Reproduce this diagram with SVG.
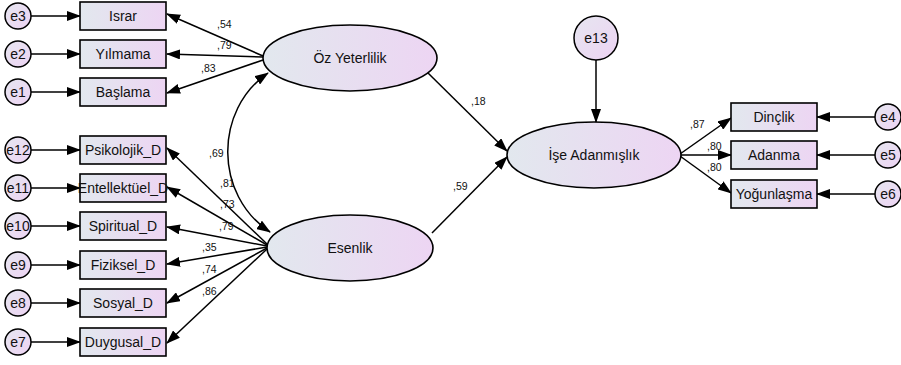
<svg xmlns="http://www.w3.org/2000/svg" width="901" height="365" viewBox="0 0 901 365">
<defs>
<linearGradient id="g" x1="0" y1="0" x2="1" y2="0">
<stop offset="0" stop-color="#e2e8ee"/>
<stop offset="1" stop-color="#edd5f3"/>
</linearGradient>
<linearGradient id="gc" x1="0" y1="0" x2="1" y2="1">
<stop offset="0" stop-color="#e6e6f0"/>
<stop offset="1" stop-color="#edd3f3"/>
</linearGradient>
<marker id="ah" markerUnits="userSpaceOnUse" markerWidth="14" markerHeight="10" viewBox="0 0 14 10" refX="13" refY="5" orient="auto-start-reverse">
<path d="M0,0 L14,5 L0,10 z" fill="#000"/>
</marker>
</defs>
<style>
.box{fill:url(#g);stroke:#000;stroke-width:1.6}
.lat{fill:url(#g);stroke:#000;stroke-width:1.6}
.err{fill:url(#gc);stroke:#000;stroke-width:1.5}
.t{font-family:"Liberation Sans",Arial,sans-serif;font-size:14px;fill:#111;text-anchor:middle;dominant-baseline:central}
.tl{font-family:"Liberation Sans",Arial,sans-serif;font-size:14px;fill:#111;text-anchor:middle;dominant-baseline:central}
.c{font-family:"Liberation Sans",Arial,sans-serif;font-size:10.5px;fill:#111}
.e{stroke:#000;stroke-width:1.5;fill:none;marker-end:url(#ah)}
.d{stroke:#000;stroke-width:1.5;fill:none;marker-start:url(#ah);marker-end:url(#ah)}
</style>

<g id="connectors">
<line class="e" x1="31" y1="16" x2="80" y2="16"/>
<line class="e" x1="31" y1="54" x2="80" y2="54"/>
<line class="e" x1="31" y1="92" x2="80" y2="92"/>
<line class="e" x1="31" y1="150" x2="80" y2="150"/>
<line class="e" x1="31" y1="188" x2="80" y2="188"/>
<line class="e" x1="31" y1="226" x2="80" y2="226"/>
<line class="e" x1="31" y1="265" x2="80" y2="265"/>
<line class="e" x1="31" y1="303" x2="80" y2="303"/>
<line class="e" x1="31" y1="342" x2="80" y2="342"/>
<line class="e" x1="263" y1="56" x2="167" y2="14"/>
<line class="e" x1="263" y1="57" x2="167" y2="54"/>
<line class="e" x1="263" y1="60" x2="167" y2="93"/>
<line class="e" x1="267" y1="244" x2="167" y2="148"/>
<line class="e" x1="267" y1="245" x2="167" y2="187"/>
<line class="e" x1="267" y1="246" x2="167" y2="227"/>
<line class="e" x1="267" y1="247" x2="167" y2="264"/>
<line class="e" x1="267" y1="248" x2="167" y2="303"/>
<line class="e" x1="267" y1="249" x2="167" y2="343"/>
<path class="d" d="M268,73 C214,110 214,195 270,232"/>
<line class="e" x1="428" y1="73" x2="507" y2="151"/>
<line class="e" x1="432" y1="233" x2="507" y2="157"/>
<line class="e" x1="596" y1="60" x2="596" y2="122"/>
<line class="e" x1="680" y1="154" x2="731" y2="118"/>
<line class="e" x1="680" y1="155" x2="731" y2="155"/>
<line class="e" x1="680" y1="156" x2="731" y2="193"/>
<line class="e" x1="875" y1="117" x2="817" y2="117"/>
<line class="e" x1="875" y1="155" x2="817" y2="155"/>
<line class="e" x1="875" y1="194" x2="817" y2="194"/>
<text class="c" x="217" y="28">,54</text>
<text class="c" x="217" y="49">,79</text>
<text class="c" x="201" y="72">,83</text>
<text class="c" x="209" y="157">,69</text>
<text class="c" x="220" y="187">,81</text>
<text class="c" x="220" y="208">,73</text>
<text class="c" x="219" y="230">,79</text>
<text class="c" x="202" y="251">,35</text>
<text class="c" x="202" y="273">,74</text>
<text class="c" x="202" y="295">,86</text>
<text class="c" x="471" y="105">,18</text>
<text class="c" x="453" y="190">,59</text>
<text class="c" x="690" y="128">,87</text>
<text class="c" x="707" y="150">,80</text>
<text class="c" x="707" y="171">,80</text>
</g>

<g id="e3"><circle class="err" cx="18" cy="16" r="13"/><text class="t" x="18" y="16">e3</text></g>
<g id="e2"><circle class="err" cx="18" cy="54" r="13"/><text class="t" x="18" y="54">e2</text></g>
<g id="e1"><circle class="err" cx="18" cy="92" r="13"/><text class="t" x="18" y="92">e1</text></g>
<g id="e12"><circle class="err" cx="18" cy="150" r="13"/><text class="t" x="18" y="150">e12</text></g>
<g id="e11"><circle class="err" cx="18" cy="188" r="13"/><text class="t" x="18" y="188">e11</text></g>
<g id="e10"><circle class="err" cx="18" cy="226" r="13"/><text class="t" x="18" y="226">e10</text></g>
<g id="e9"><circle class="err" cx="18" cy="265" r="13"/><text class="t" x="18" y="265">e9</text></g>
<g id="e8"><circle class="err" cx="18" cy="303" r="13"/><text class="t" x="18" y="303">e8</text></g>
<g id="e7"><circle class="err" cx="18" cy="342" r="13"/><text class="t" x="18" y="342">e7</text></g>

<g id="israr"><rect class="box" x="80" y="2" width="86" height="28"/><text class="t" x="123" y="16">Israr</text></g>
<g id="yilmama"><rect class="box" x="80" y="40" width="86" height="28"/><text class="t" x="123" y="54">Yılmama</text></g>
<g id="baslama"><rect class="box" x="80" y="78" width="86" height="28"/><text class="t" x="123" y="92">Başlama</text></g>
<g id="psikolojik"><rect class="box" x="80" y="136" width="86" height="28"/><text class="t" x="123" y="150">Psikolojik_D</text></g>
<g id="entellektuel"><rect class="box" x="80" y="174" width="86" height="28"/><text class="t" x="123" y="188">Entellektüel_D</text></g>
<g id="spiritual"><rect class="box" x="80" y="212" width="86" height="28"/><text class="t" x="123" y="226">Spiritual_D</text></g>
<g id="fiziksel"><rect class="box" x="80" y="251" width="86" height="28"/><text class="t" x="123" y="265">Fiziksel_D</text></g>
<g id="sosyal"><rect class="box" x="80" y="289" width="86" height="28"/><text class="t" x="123" y="303">Sosyal_D</text></g>
<g id="duygusal"><rect class="box" x="80" y="328" width="86" height="28"/><text class="t" x="123" y="342">Duygusal_D</text></g>

<g id="ozyeterlilik"><ellipse class="lat" cx="350" cy="58" rx="87" ry="33"/><text class="tl" x="350" y="58">Öz Yeterlilik</text></g>
<g id="esenlik"><ellipse class="lat" cx="350" cy="248" rx="83" ry="33"/><text class="tl" x="350" y="248">Esenlik</text></g>
<g id="iseadanmislik"><ellipse class="lat" cx="594" cy="155" rx="87" ry="33"/><text class="tl" x="594" y="155">İşe Adanmışlık</text></g>
<g id="e13"><circle class="err" cx="596" cy="38" r="22"/><text class="t" x="596" y="38">e13</text></g>

<g id="dinclik"><rect class="box" x="731" y="103" width="86" height="28"/><text class="t" x="774" y="117">Dinçlik</text></g>
<g id="adanma"><rect class="box" x="731" y="141" width="86" height="28"/><text class="t" x="774" y="155">Adanma</text></g>
<g id="yogunlasma"><rect class="box" x="731" y="180" width="86" height="28"/><text class="t" x="774" y="194">Yoğunlaşma</text></g>
<g id="e4"><circle class="err" cx="888" cy="117" r="13"/><text class="t" x="888" y="117">e4</text></g>
<g id="e5"><circle class="err" cx="888" cy="155" r="13"/><text class="t" x="888" y="155">e5</text></g>
<g id="e6"><circle class="err" cx="888" cy="194" r="13"/><text class="t" x="888" y="194">e6</text></g>
</svg>
